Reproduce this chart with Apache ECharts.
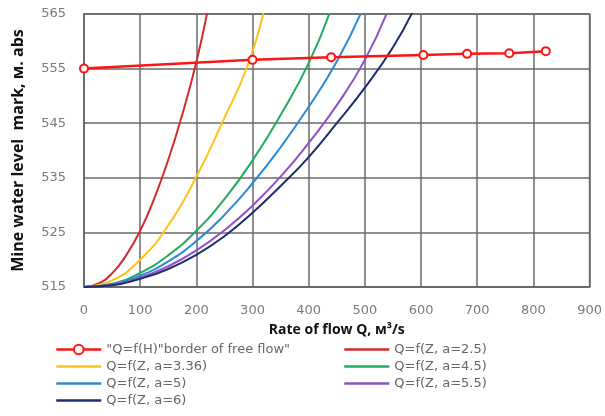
<!DOCTYPE html>
<html>
<head>
<meta charset="utf-8">
<script src="https://cdn.jsdelivr.net/npm/echarts@6/dist/echarts.min.js"></script>
<style>
  html, body { margin: 0; padding: 0; background: #fff; }
  #vis { width: 605px; height: 416px; }
</style>
</head>
<body>
<div id="vis"></div>
<script>
// Values: [Q, H] pairs
const borderFlow = [[0, 555], [300, 556.6], [440, 557.1], [604, 557.5], [682, 557.7], [757, 557.8], [822, 558.2]];
const curveA25 = [[0, 515], [25, 515.6], [50, 517.5], [75, 520.8], [100, 525.3], [125, 531.2], [150, 538.3], [175, 546.6], [200, 556.2], [220, 565.6]];
const curveA336 = [[0, 515], [50, 516.2], [100, 520], [150, 526.3], [200, 535.2], [250, 546], [290, 555.2], [320, 565.4]];
const curveA45 = [[0, 515], [50, 515.6], [100, 517.6], [150, 520.8], [200, 525.3], [250, 531.1], [300, 538.2], [350, 546.5], [400, 556], [438, 565.4]];
const curveA5 = [[0, 515], [50, 515.5], [100, 517.1], [150, 519.7], [200, 523.4], [250, 528.2], [300, 534], [350, 540.6], [400, 548], [450, 556.3], [494, 565.4]];
const curveA55 = [[0, 515], [50, 515.4], [100, 516.7], [150, 518.8], [200, 521.7], [250, 525.4], [300, 529.9], [350, 535.2], [400, 541.4], [450, 548.3], [500, 556.6], [540, 565.4]];
const curveA6 = [[0, 515], [50, 515.3], [100, 516.5], [150, 518.3], [200, 520.9], [250, 524.3], [300, 528.6], [350, 533.5], [400, 538.8], [450, 545], [500, 551.5], [550, 558.9], [585, 565.4]];

const xTicks = { min: 0, max: 900, step: 100 };
const yTicks = { min: 515, max: 565, step: 10 };

const names = [
  '"Q=f(H)"border of free flow"',
  'Q=f(Z, a=2.5)',
  'Q=f(Z, a=3.36)',
  'Q=f(Z, a=4.5)',
  'Q=f(Z, a=5)',
  'Q=f(Z, a=5.5)',
  'Q=f(Z, a=6)'
];
const colors = ['#ff1414', '#d22a2f', '#ffc21a', '#1fad5c', '#2b8ad6', '#8f4fc9', '#1f2c6e'];

const chart = echarts.init(document.getElementById('vis'));

const gridColor = '#6a6a6a';
const labelFont = { color: '#7a7a7a', fontSize: 13, fontFamily: 'DejaVu Sans' };

function curve(i, data) {
  return {
    name: names[i],
    type: 'line',
    data: data,
    smooth: true,
    showSymbol: false,
    symbol: 'none',
    z: 3,
    lineStyle: { width: 2, color: colors[i] },
    itemStyle: { color: colors[i] }
  };
}

// curves get a plain line in the legend (hide the symbol only)
function legendItem(i) {
  return i === 0 ? { name: names[i] } : { name: names[i], itemStyle: { opacity: 0 } };
}

const legendText = { color: '#666', fontSize: 13, lineHeight: 13, fontFamily: 'DejaVu Sans' };

const options = {
  animation: false,
  backgroundColor: '#fff',
  grid: {
    left: 84, right: 15, top: 14, bottom: 129,
    show: true, borderColor: gridColor, borderWidth: 1.5
  },
  legend: [
    {
      type: 'plain', orient: 'vertical', left: 50, top: 338,
      itemWidth: 45, itemHeight: 12, itemGap: 4,
      lineStyle: { width: 2.5 },
      textStyle: legendText,
      data: [0, 2, 4, 6].map(legendItem)
    },
    {
      type: 'plain', orient: 'vertical', left: 338, top: 338,
      itemWidth: 45, itemHeight: 12, itemGap: 4,
      lineStyle: { width: 2.5 },
      textStyle: legendText,
      data: [1, 3, 5].map(legendItem)
    }
  ],
  xAxis: {
    type: 'value',
    min: xTicks.min, max: xTicks.max, interval: xTicks.step,
    name: 'Rate of flow Q, м³/s',
    nameLocation: 'middle',
    nameGap: 36,
    nameTextStyle: { color: '#111', fontSize: 14, fontWeight: 'bold', fontFamily: 'Open Sans' },
    axisLine: { show: true, lineStyle: { color: gridColor, width: 1.5 } },
    axisTick: { show: false },
    axisLabel: Object.assign({ margin: 17 }, labelFont),
    splitLine: { show: true, lineStyle: { color: gridColor, width: 1.5 } }
  },
  yAxis: {
    type: 'value',
    min: yTicks.min, max: yTicks.max, interval: yTicks.step,
    name: 'Mine water level  mark, м. abs',
    nameLocation: 'middle',
    nameGap: 58,
    nameTextStyle: { color: '#111', fontSize: 16, fontWeight: 'bold', fontFamily: 'Open Sans' },
    axisLine: { show: true, lineStyle: { color: gridColor, width: 1.5 } },
    axisTick: { show: false },
    axisLabel: Object.assign({ margin: 18 }, labelFont),
    splitLine: { show: true, lineStyle: { color: gridColor, width: 1.5 } }
  },
  series: [
    {
      name: names[0],
      type: 'line',
      data: borderFlow,
      z: 5,
      symbol: 'circle',
      symbolSize: 8,
      showSymbol: true,
      lineStyle: { width: 2.5, color: colors[0] },
      itemStyle: { color: '#fff', borderColor: colors[0], borderWidth: 2 }
    },
    curve(1, curveA25),
    curve(2, curveA336),
    curve(3, curveA45),
    curve(4, curveA5),
    curve(5, curveA55),
    curve(6, curveA6)
  ]
};

chart.setOption(options);
</script>
</body>
</html>
